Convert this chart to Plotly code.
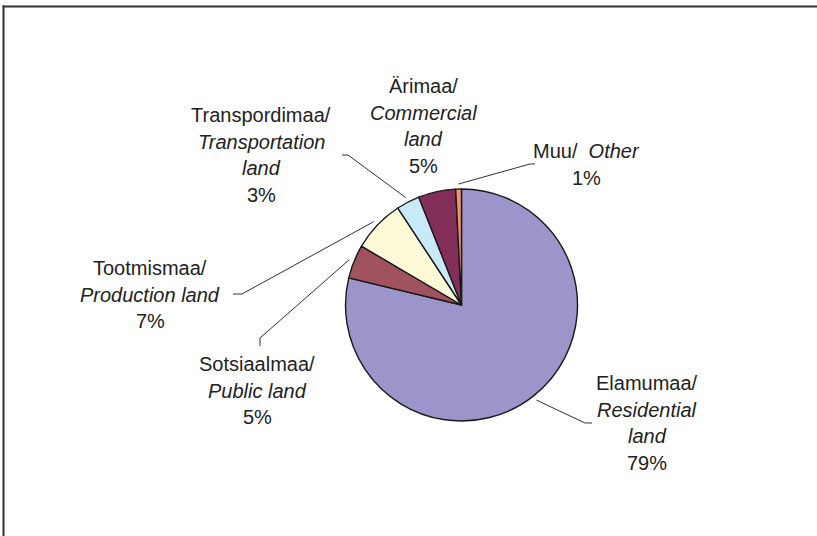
import math
import plotly.graph_objects as go

# ---------------- data ----------------
categories = ["Elamumaa/", "Sotsiaalmaa/", "Tootmismaa/", "Transpordimaa/", "Ärimaa/", "Muu/"]
english = ["Residential land", "Public land", "Production land", "Transportation land", "Commercial land", "Other"]
values = [78.8, 4.7, 7.3, 3.25, 5.2, 0.8]
colors = ["#9B95C9", "#A0535F", "#FFFBD8", "#C8E9F8", "#842E5A", "#F2906E"]

# label text lines (display layout of each label)
label_lines = [
    ["Elamumaa/", "<i>Residential</i>", "<i>land</i>"],
    ["Sotsiaalmaa/", "<i>Public land</i>"],
    ["Tootmismaa/", "<i>Production land</i>"],
    ["Transpordimaa/", "<i>Transportation</i>", "<i>land</i>"],
    ["Ärimaa/", "<i>Commercial</i>", "<i>land</i>"],
    ["Muu/  <i>Other</i>"],
]

# ---------------- layout (pixels) ----------------
W, H = 817, 536
cx, cy, R = 461.5, 305.0, 116.0
label_pos = [(647, 383), (257, 364), (150, 268), (261, 115), (423, 86), (586, 151)]
line_gap = 26.7
leaders = [
    [(585, 423), (592, 423)],
    [(260, 338), (260, 346)],
    [(242, 294), (233, 294)],
    [(348, 155), (342, 155)],
    None,
    [(530, 164), (535, 164)],
]

def px(x):
    return x / W

def py(y):
    return 1 - y / H

total = sum(values)
percents = [f"{round(v / total * 100)}%" for v in values]

fig = go.Figure(go.Pie(
    labels=[c + " " + e for c, e in zip(categories, english)],
    values=values,
    sort=False,
    direction="clockwise",
    rotation=0,
    textinfo="none",
    hoverinfo="label+percent",
    marker=dict(colors=colors, line=dict(color="#1a1a1a", width=1.4)),
    domain=dict(x=[px(cx - R), px(cx + R)], y=[py(cy + R), py(cy - R)]),
    showlegend=False,
))

annotations = []
shapes = []
font = dict(family="Liberation Sans, Arial, sans-serif", size=20, color="#222222")

cum = 0.0
for i, v in enumerate(values):
    mid = (cum + v / 2) / total * 2 * math.pi
    cum += v
    lines = label_lines[i] + [percents[i]]
    lx, ly = label_pos[i]
    for k, t in enumerate(lines):
        annotations.append(dict(
            x=px(lx), y=py(ly + k * line_gap), xref="paper", yref="paper",
            text=t, showarrow=False, font=font, xanchor="center", yanchor="middle",
        ))
    if leaders[i]:
        sx = cx + (R + 5) * math.sin(mid)
        sy = cy - (R + 5) * math.cos(mid)
        pts = [(sx, sy)] + leaders[i]
        path = "M " + " L ".join(f"{px(a):.5f},{py(b):.5f}" for a, b in pts)
        shapes.append(dict(type="path", xref="paper", yref="paper", path=path,
                           line=dict(color="#333333", width=1)))

# frame: top and left edges only (the rest lies outside the picture)
shapes.append(dict(type="line", xref="paper", yref="paper",
                   x0=px(2.5), x1=1.0, y0=py(6.5), y1=py(6.5),
                   line=dict(color="#333333", width=2)))
shapes.append(dict(type="line", xref="paper", yref="paper",
                   x0=px(3.5), x1=px(3.5), y0=py(5.5), y1=0.0,
                   line=dict(color="#333333", width=2)))

fig.update_layout(
    width=W, height=H,
    margin=dict(l=0, r=0, t=0, b=0),
    paper_bgcolor="white", plot_bgcolor="white",
    annotations=annotations, shapes=shapes,
)

fig.write_html("out.html", config={"displayModeBar": False},
               post_script="document.body.style.margin='0';document.body.style.overflow='hidden';")
